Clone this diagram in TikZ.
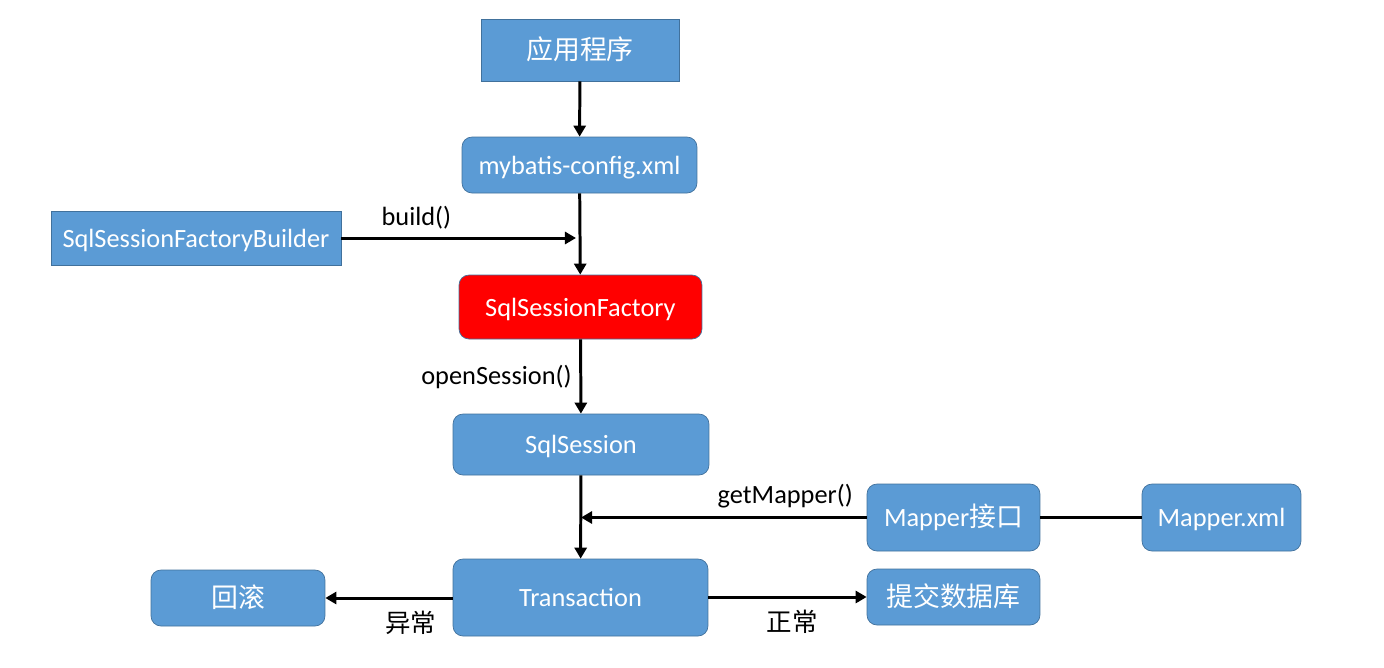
\documentclass[tikz,border=0pt]{standalone}
\usepackage{fontspec}
\setmainfont{Carlito}
\newfontfamily\cjk{Noto Sans CJK SC}
\usetikzlibrary{arrows.meta, positioning, calc}
\definecolor{cBox}{RGB}{91,155,213}
\definecolor{cEdge}{RGB}{65,113,156}
\definecolor{cHot}{RGB}{255,0,0}
\tikzset{
	flatbox/.style ={rectangle, draw=cEdge, fill=cBox, text=white, align=center, text height=2.5ex, text depth=0.3ex, font=\fontsize{15}{17}\selectfont},
	roundbox/.style={flatbox, rounded corners=0.2cm},
	hotbox/.style  ={roundbox, fill=cHot, draw=cEdge},
	flow/.style    ={-{Triangle[length=2.2mm, width=2.4mm]}, line width=1.7pt},
	link/.style    ={line width=1.7pt},
	lbl/.style     ={font=\fontsize{15}{17}\selectfont},
	zhlbl/.style   ={font=\cjk\fontsize{14.5}{16}\selectfont},
}

\begin{document}
\begin{tikzpicture}[x=0.02cm, y=-0.02cm]
	\useasboundingbox (0,0) rectangle (1384,667);
	% main column
	\node[flatbox, minimum width=3.96cm, minimum height=1.24cm] (app) at (580,50) {\cjk\fontsize{15.3}{17}\selectfont 应用程序};
	\node[roundbox, minimum width=4.7cm, minimum height=1.12cm] (config) at (579.5,165) {mybatis-config.xml};
	\node[flatbox, minimum width=5.8cm, minimum height=1.08cm] (builder) at (196,238) {SqlSessionFactoryBuilder};
	\node[hotbox, minimum width=4.86cm, minimum height=1.28cm] (factory) at (580.5,307) {SqlSessionFactory};
	\node[roundbox, minimum width=5.12cm, minimum height=1.22cm] (session) at (581,444.5) {SqlSession};
	\node[roundbox, minimum width=5.1cm, minimum height=1.54cm] (trans) at (580.5,597.5) {Transaction};
	% side nodes
	\node[roundbox, minimum width=3.46cm, minimum height=1.34cm] (mapper) at (953.5,517.5) {Mapper{\cjk\fontsize{15.3}{17}\selectfont 接口}};
	\node[roundbox, minimum width=3.18cm, minimum height=1.34cm] (mapperxml) at (1221.5,517.5) {Mapper.xml};
	\node[roundbox, minimum width=3.48cm, minimum height=1.12cm] (rollback) at (238,598) {\cjk\fontsize{15.3}{17}\selectfont 回滚};
	\node[roundbox, minimum width=3.46cm, minimum height=1.12cm] (commit) at (953.5,597) {\cjk\fontsize{15.3}{17}\selectfont 提交数据库};

	\coordinate (buildend) at (config.south |- builder.east);
	\coordinate (mapend) at (session.south |- mapper.west);

	\draw[flow] (app) -- (config);
	\draw[flow] (config) -- (factory);
	\draw[flow] (builder.east) -- ([xshift=-2]buildend) node[lbl, pos=0.32, above=1pt] {build()};
	\draw[flow] (factory) -- (session) node[lbl, midway, left=1pt] {openSession()};
	\draw[flow] (session) -- (trans);
	\draw[flow] (mapper.west) -- (mapend) node[lbl, pos=0.285, above=1pt] {getMapper()};
	\draw[link] (mapper) -- (mapperxml);
	\draw[flow] (trans.west |- rollback.east) -- (rollback.east) node[zhlbl, pos=0.33, below=3pt] {异常};
	\draw[flow] (trans.east |- commit.west) -- (commit.west) node[zhlbl, pos=0.53, below=3pt] {正常};
\end{tikzpicture}
\end{document}
